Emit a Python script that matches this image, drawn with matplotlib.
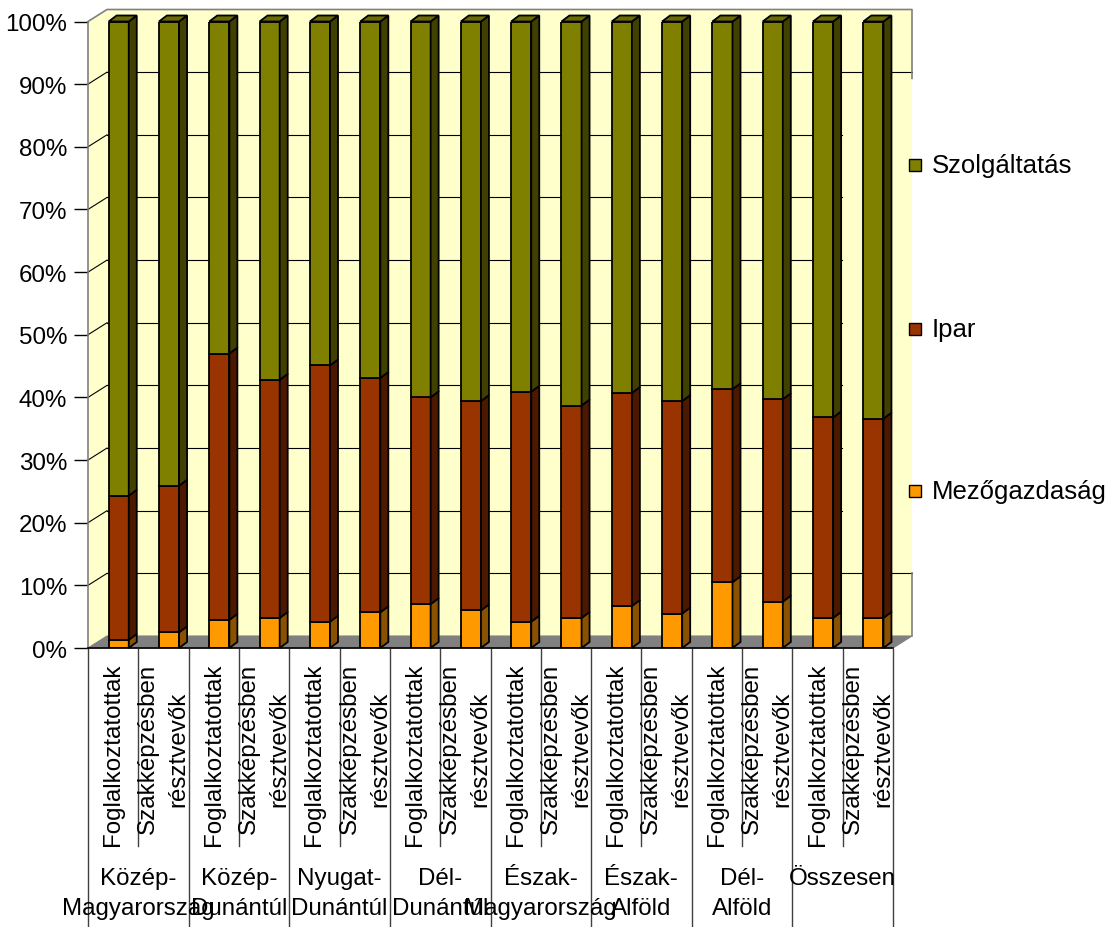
import numpy as np
import matplotlib.pyplot as plt
import matplotlib.transforms as mtransforms
from matplotlib.patches import Polygon, Rectangle

plt.rcParams['font.family'] = ['Liberation Sans', 'DejaVu Sans']

# adatok (százalék)
regions = ['Közép-\nMagyarország', 'Közép-\nDunántúl', 'Nyugat-\nDunántúl', 'Dél-\nDunántúl',
           'Észak-\nMagyarország', 'Észak-\nAlföld', 'Dél-\nAlföld', 'Összesen']
sub_labels = ['Foglalkoztatottak', 'Szakképzésben\nrésztvevők']
series = ['Mezőgazdaság', 'Ipar', 'Szolgáltatás']

mezogazdasag = [1.3, 2.5, 4.5, 4.8, 4.2, 5.7, 7.0, 6.0, 4.2, 4.8, 6.7, 5.5, 10.5, 7.4, 4.8, 4.8]
ipar = [23.0, 23.4, 42.5, 38.0, 40.9, 37.4, 33.0, 33.4, 36.7, 33.9, 34.0, 33.9, 30.8, 32.3, 32.0, 31.8]
szolgaltatas = [75.7, 74.1, 53.0, 57.2, 54.9, 56.9, 60.0, 60.6, 59.1, 61.3, 59.3, 60.6, 58.7, 60.3, 63.2, 63.4]

colors = ['#FF9900', '#993300', '#808000']
sides = ['#8A5200', '#4C1900', '#404000']
tops = ['#D98200', '#7A2900', '#6B6B00']

W, H = 1111, 928
FS = 17.4
fig = plt.figure(figsize=(W / 100, H / 100), dpi=100)
ax = fig.add_axes([88 / W, 1 - 649 / H, 805 / W, 626.5 / H])
ax.set_xlim(-0.5, 15.5)
ax.set_ylim(0, 100)
ax.patch.set_visible(False)

px_x = 805 / 16
px_y = 626.5 / 100
WX, WY = 19 / px_x, 12 / px_y   # fal mélysége
BX, BY = 8 / px_x, 6 / px_y     # oszlop mélysége
wall = '#FFFFCC'

# hátsó fal, oldalfal, padló
ax.add_patch(Rectangle((-0.5 + WX, WY), 16, 100, facecolor=wall, edgecolor='none', zorder=0, clip_on=False))
ax.add_patch(Polygon([(-0.5, 0), (-0.5, 100), (-0.5 + WX, 100 + WY), (-0.5 + WX, WY)],
                     facecolor=wall, edgecolor='none', zorder=0, clip_on=False))
ax.add_patch(Polygon([(-0.5, 0), (15.5, 0), (15.5 + WX, WY), (-0.5 + WX, WY)],
                     facecolor='#808080', edgecolor='#808080', lw=0.8, zorder=1, clip_on=False))

legend_x = (842 - 88) / px_x - 0.5
for v in range(10, 100, 10):
    xe = 15.5 + WX if v in (10, 90) else legend_x
    ax.plot([-0.5 + WX, xe], [v + WY, v + WY], color='black', lw=0.8, zorder=1, clip_on=False)
    ax.plot([-0.5, -0.5 + WX], [v, v + WY], color='black', lw=0.8, zorder=1, clip_on=False)

ax.plot([-0.5, -0.5 + WX, 15.5 + WX, 15.5 + WX], [100, 100 + WY, 100 + WY, 89 + WY],
        color='#808080', lw=1.2, zorder=1, clip_on=False)
ax.plot([15.5 + WX, 15.5 + WX], [WY, 10 + WY], color='#808080', lw=1.2, zorder=1, clip_on=False)

# oszlopok
data = [mezogazdasag, ipar, szolgaltatas]
xs = np.arange(16) + 0.11
bw = 0.4
bottom = np.zeros(16)
for k, vals in enumerate(data):
    vals = np.array(vals)
    ax.bar(xs, vals, width=bw, bottom=bottom, color=colors[k], edgecolor='black',
           linewidth=1.3, zorder=3)
    for x, b, v in zip(xs, bottom, vals):
        r = x + bw / 2
        ax.add_patch(Polygon([(r, b), (r + BX, b + BY), (r + BX, b + v + BY), (r, b + v)],
                             facecolor=sides[k], edgecolor='black', lw=1.3, zorder=3, clip_on=False))
        if k == len(data) - 1:
            l = x - bw / 2
            t = b + v
            ax.add_patch(Polygon([(l, t), (r, t), (r + BX, t + BY), (l + BX, t + BY)],
                                 facecolor=tops[k], edgecolor='black', lw=1.3, zorder=3, clip_on=False))
    bottom = bottom + vals

# tengelyek
for s in ['top', 'right', 'bottom']:
    ax.spines[s].set_visible(False)
ax.spines['left'].set_color('#808080')
ax.spines['left'].set_linewidth(1.2)
ax.set_yticks(np.arange(0, 101, 10))
ax.set_yticklabels([f'{v}%' for v in range(0, 101, 10)])
ax.tick_params(axis='y', length=10, width=1, color='black', pad=5, labelsize=FS, labelcolor='black')
ax.set_xticks([])

trans = mtransforms.blended_transform_factory(ax.transData, fig.transFigure)
ax.plot([-0.5, 15.5], [0, 0], color='black', lw=1.2, zorder=4, clip_on=False)
for i in range(17):
    x = i - 0.5
    y_end = 0 if i % 2 == 0 else 1 - 847 / H
    ax.plot([x, x], [1 - 650 / H, y_end], color='#404040', lw=1, transform=trans, clip_on=False)

for i in range(16):
    ax.text(i, 1 - 664 / H, sub_labels[i % 2], rotation=90, ha='center', va='top',
            multialignment='center', fontsize=FS, linespacing=1.5, transform=trans)
for g, name in enumerate(regions):
    ax.text(2 * g + 0.5, 1 - 868 / H, name, ha='center', va='top', multialignment='center',
            fontsize=FS, linespacing=1.5, transform=trans)

# jelmagyarázat
for k, yc in zip([2, 1, 0], [166, 330, 492]):
    fig.patches.append(Rectangle((909 / W, 1 - (yc + 6) / H), 12 / W, 12 / H, facecolor=colors[k],
                                 edgecolor='black', lw=1, transform=fig.transFigure))
    fig.text(932 / W, 1 - yc / H, series[k], ha='left', va='center', fontsize=18.5)

fig.savefig('out.png', dpi=100)
